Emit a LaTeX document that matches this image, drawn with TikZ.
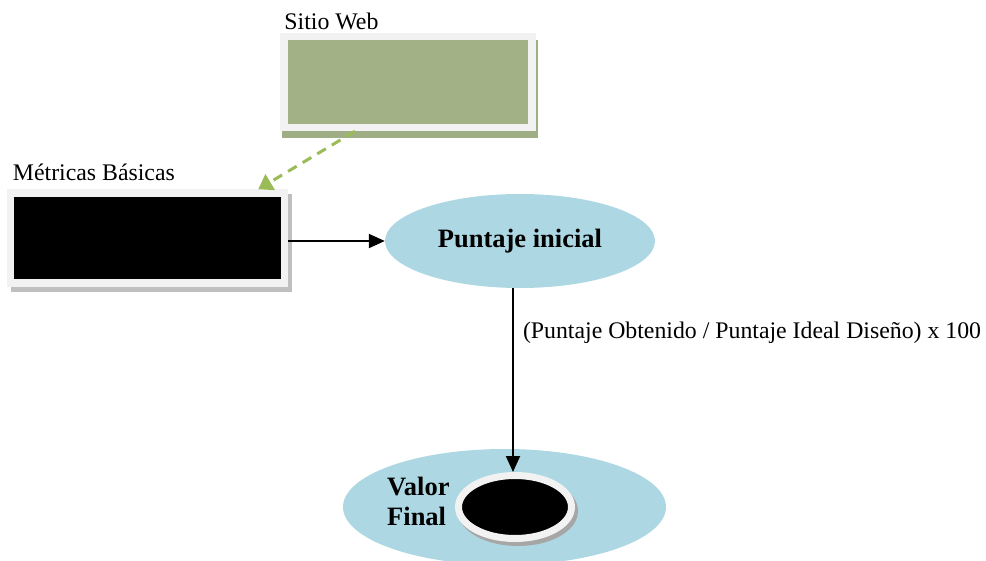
\documentclass[tikz,border=0pt]{standalone}
\usepackage{fontspec}
\setmainfont{Liberation Serif}
\newfontfamily\timesfont{Liberation Serif}
\usetikzlibrary{arrows.meta,positioning,shapes.geometric,shadows}
\definecolor{webgreen}{HTML}{A3B187}
\definecolor{webshade}{HTML}{A0AE85}
\definecolor{framegray}{HTML}{F2F2F2}
\definecolor{ovalblue}{HTML}{ADD8E3}
\definecolor{dashgreen}{HTML}{9BBB59}

\begin{document}
\begin{tikzpicture}[x=1pt, y=-1pt,
        framed/.style={draw=framegray, line width=7.5pt, inner sep=0pt},
        oval/.style={ellipse, fill=ovalblue, inner sep=0pt},
        conn/.style={line width=2pt, -{Triangle[length=16pt,width=14pt]}},
        txt/.style={font=\timesfont\fontsize{23.8}{28}\selectfont, inner sep=0pt},
        btxt/.style={font=\timesfont\fontsize{26.5}{30}\selectfont\bfseries, inner sep=0pt}
      ]
      \useasboundingbox (0,0) rectangle (986,560);

      \node [framed, rectangle, fill=webgreen, minimum width=248, minimum height=91,
        drop shadow={shadow xshift=2pt, shadow yshift=-7pt, fill=webshade, draw=webshade, opacity=1}]
        (web) at (408,82) {};
      \node [txt, anchor=base west] (weblbl) at ([xshift=4pt,yshift=3pt]web.north west) {Sitio Web};

      \node [framed, rectangle, fill=black, minimum width=274, minimum height=90,
        drop shadow={shadow xshift=4pt, shadow yshift=-5pt, fill=black!25, draw=black!25, opacity=1}]
        (mb) at (147.5,238) {};
      \node [txt, anchor=base west] (mblbl) at ([xshift=6pt,yshift=9pt]mb.north west) {Métricas Básicas};

      \node [oval, minimum width=270, minimum height=94, btxt] (pi) at (520,241) {Puntaje inicial};

      \node [oval, minimum width=323, minimum height=116] (vf) at (504.5,507) {};
      \node [framed, ellipse, fill=black, line width=7pt, minimum width=113, minimum height=63,
        drop shadow={shadow xshift=3pt, shadow yshift=-4pt, fill=black!35, draw=black!35, opacity=1}]
        (ring) at (515,507) {};
      \node [btxt, anchor=west, align=left] (vflbl) at (387,501) {Valor\\Final};

      % connectors
      \draw [dashgreen, line width=3pt, dash pattern=on 10pt off 7pt,
        -{Triangle[length=14pt,width=18pt]}]
        ([xshift=-53pt]web.south) -- ([xshift=-30pt]mb.north east);
      \draw [conn] (mb.east |- pi.west) -- (pi.west);
      \draw [conn] ([xshift=-2pt]pi.south -| ring.north) -- node [txt, pos=.275, anchor=base west, xshift=9pt] (formula)
        {(Puntaje Obtenido / Puntaje Ideal Diseño) x 100} ([xshift=-2pt]ring.north);
    \end{tikzpicture}
\end{document}
